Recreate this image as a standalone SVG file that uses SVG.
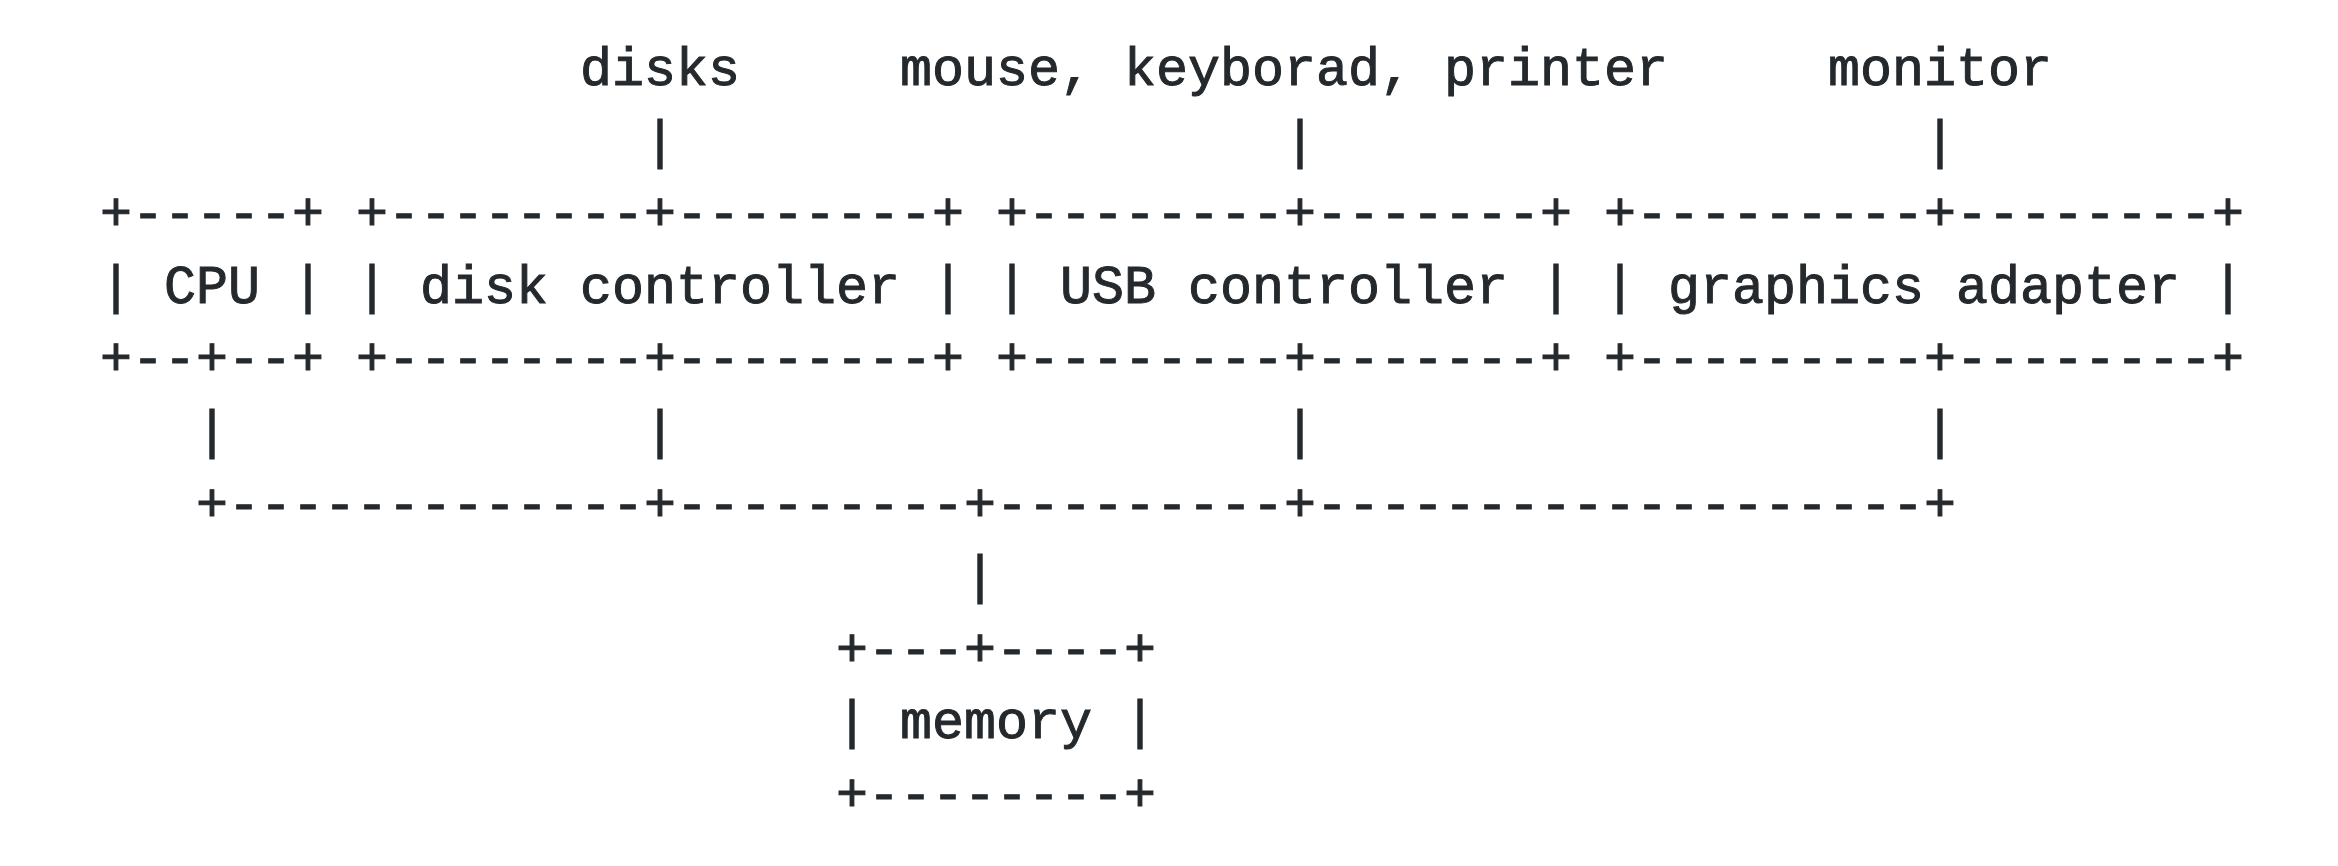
<svg xmlns="http://www.w3.org/2000/svg" width="2338" height="866" viewBox="0 0 2338 866">
<style>
text { font-family: "Liberation Mono", "DejaVu Sans Mono", monospace; font-size: 53.33px; fill: #24292e; stroke: #24292e; stroke-width: 1px; white-space: pre; }
</style>
<rect width="2338" height="866" fill="#ffffff"/>
<g id="label-disks"><text x="580" y="85">disks</text></g>
<g id="label-usb-devices"><text x="900" y="85">mouse, keyborad, printer</text></g>
<g id="label-monitor"><text x="1828" y="85">monitor</text></g>
<g id="cpu">
<text x="100" y="230.2">+-----+</text>
<text x="100" y="302.8">| CPU |</text>
<text x="100" y="375.4">+--+--+</text>
</g>
<g id="disk-controller">
<text x="356" y="230.2">+--------+--------+</text>
<text x="356" y="302.8">| disk controller |</text>
<text x="356" y="375.4">+--------+--------+</text>
</g>
<g id="usb-controller">
<text x="996" y="230.2">+--------+-------+</text>
<text x="996" y="302.8">| USB controller |</text>
<text x="996" y="375.4">+--------+-------+</text>
</g>
<g id="graphics-adapter">
<text x="1604" y="230.2">+---------+--------+</text>
<text x="1604" y="302.8">| graphics adapter |</text>
<text x="1604" y="375.4">+---------+--------+</text>
</g>
<g id="memory">
<text x="836" y="665.8">+---+----+</text>
<text x="836" y="738.4">| memory |</text>
<text x="836" y="811">+--------+</text>
</g>
<g id="connectors">
<text x="644" y="157.6">|</text>
<text x="1284" y="157.6">|</text>
<text x="1924" y="157.6">|</text>
<text x="196" y="448">|</text>
<text x="644" y="448">|</text>
<text x="1284" y="448">|</text>
<text x="1924" y="448">|</text>
<text x="196" y="520.6">+-------------+---------+---------+-------------------+</text>
<text x="964" y="593.2">|</text>
</g>
</svg>
